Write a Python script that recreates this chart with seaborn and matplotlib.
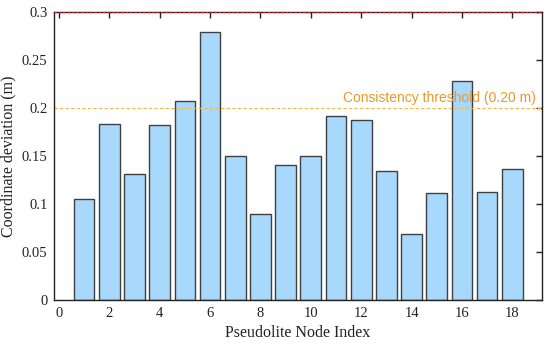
import seaborn as sns
import numpy as np
import pandas as pd
import matplotlib.pyplot as plt

node_index = list(range(1, 19))
deviation = [0.105, 0.184, 0.131, 0.183, 0.208, 0.280, 0.150, 0.090, 0.141,
             0.150, 0.192, 0.188, 0.134, 0.069, 0.111, 0.228, 0.113, 0.137]
threshold = 0.20
threshold_label = "Consistency threshold (0.20 m)"

df = pd.DataFrame({"node": node_index, "dev": deviation})

sns.set_style("white")
plt.rcParams["font.family"] = ["Liberation Serif", "DejaVu Serif"]

fig = plt.figure(figsize=(5.5, 3.45), dpi=100)
ax = fig.add_axes([0.099, 0.131, 0.886, 0.833])

sns.barplot(data=df, x="node", y="dev", native_scale=True, width=0.82,
            color="#A8D8FB", saturation=1, edgecolor="#404040", linewidth=1.0, ax=ax)

ax.axhline(threshold, color="#F5B64A", linestyle=(0, (3, 2)), linewidth=0.8, zorder=1)
ax.text(18.95, threshold + 0.003, threshold_label, ha="right", va="bottom",
        color="#E59A2A", fontsize=10, family=["Liberation Sans", "DejaVu Sans"], zorder=5)

ax.set_xlim(-0.18, 19.17)
ax.set_ylim(0, 0.3)
ax.set_xticks(np.arange(0, 19, 2))
ax.set_yticks([0, 0.05, 0.1, 0.15, 0.2, 0.25, 0.3])
ax.set_yticklabels(["0", "0.05", "0.1", "0.15", "0.2", "0.25", "0.3"])
ax.tick_params(direction="in", top=True, right=True, length=4, width=1.0,
               labelsize=10.5, colors="#222222", pad=5)
for s in ax.spines.values():
    s.set_color("#222222")
    s.set_linewidth(1.0)
ax.axhline(0.3, color="#d62020", linestyle=(0, (2, 2)), linewidth=0.8, clip_on=False, zorder=6)

ax.set_xlabel("Pseudolite Node Index", fontsize=11.5, color="#222222")
ax.set_ylabel("Coordinate deviation (m)", fontsize=11.5, color="#222222")

plt.savefig("out.png", dpi=100)
plt.close()
